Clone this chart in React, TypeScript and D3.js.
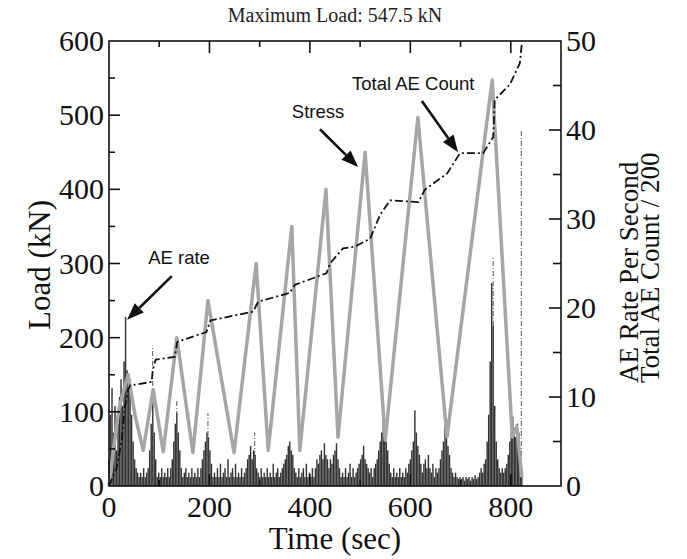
import React from "react";
import * as d3 from "d3";

// ---------- data ----------
const xTicks = [0, 100, 200, 300, 400, 500, 600, 700, 800, 900];
const xLabels = [0, 200, 400, 600, 800];
const loadTicks = [0, 50, 100, 150, 200, 250, 300, 350, 400, 450, 500, 550, 600];
const loadLabels = [0, 100, 200, 300, 400, 500, 600];
const rateTicks = [0, 5, 10, 15, 20, 25, 30, 35, 40, 45, 50];
const rateLabels = [0, 10, 20, 30, 40, 50];

// Stress (load, kN) vs time (sec)
const stressTime = [0, 10, 20, 38, 52, 68, 88, 108, 135, 167, 197, 249, 293, 317, 364, 380, 432, 456, 510, 550, 615, 673, 763, 803, 812, 822];
const stressLoad = [0, 55, 105, 150, 95, 48, 130, 46, 200, 45, 250, 45, 300, 48, 350, 48, 400, 66, 450, 62, 497, 66, 547.5, 66, 80, 12];

// Total AE count / 200 vs time
const countTime = [0, 15, 25, 32, 38, 42, 85, 87, 93, 131, 136, 194, 202, 287, 297, 360, 370, 433, 440, 466, 490, 520, 540, 560, 616, 629, 673, 699, 745, 765, 768, 798, 818, 822];
const countValue = [0, 2, 5, 9, 10.8, 11.3, 11.7, 13.0, 14.2, 14.5, 16.2, 17.3, 18.6, 19.6, 20.7, 21.7, 22.6, 23.9, 25.0, 26.7, 26.9, 27.8, 30.5, 32.1, 31.9, 33.3, 35.1, 37.4, 37.4, 39.2, 43.4, 45.1, 47.5, 49.7];

// AE rate per second, sampled every 3 s from t = 0
const rateStep = 3;
const aeRate = [
  3, 8, 11, 6, 9, 4, 7, 10, 12, 9,
  14, 19, 13, 11, 12, 8, 5, 3, 2, 1.5,
  1, 1.5, 1, 2, 1, 1.5, 2, 4, 7, 9.7,
  6, 3, 1, 1.5, 1, 2, 1, 1.5, 1, 2,
  1, 2, 3, 5, 7, 8.2, 6, 4, 2, 1,
  1.5, 2, 1, 1.5, 1, 2, 1, 1.5, 1, 2,
  1, 2, 3, 4, 5, 6, 5.5, 4, 2.5, 1,
  1.5, 1, 2, 1, 2.5, 1, 1.5, 2, 1, 3,
  1, 1.5, 2, 1, 2.5, 1, 1.5, 1, 2, 1,
  1.5, 2, 3, 3.5, 4.5, 3, 4, 3.5, 2, 1.5,
  1, 2, 1, 1.5, 1, 2, 1, 1.5, 1, 2.5,
  1, 1.5, 2, 1, 1.5, 2, 2.5, 3, 3.5, 4.5,
  5, 4, 3.5, 2, 1.5, 1, 2, 1, 1.5, 2,
  1, 2.5, 1, 1.5, 1, 2, 1, 2, 3, 2.5,
  3.5, 4, 3, 4.8, 3.5, 3, 2, 3, 2.5, 3.5,
  4, 4.8, 3, 2, 1, 1.5, 1, 2, 1, 1.5,
  2.5, 1, 2, 1, 1.5, 2, 2.5, 3, 3.5, 4.5,
  3, 2.5, 2, 1.5, 2, 1, 2, 2.5, 3, 4,
  5, 6, 7.8, 6.5, 5, 4, 2.5, 1.5, 1, 2,
  1, 1.5, 1, 2, 1, 1.5, 1, 2, 1.5, 2.5,
  3, 4, 5, 8.5, 6, 4.5, 3.5, 2.5, 1.5, 2.5,
  3, 2, 3.5, 2, 1.5, 2.5, 1, 2, 1.5, 2,
  3, 4, 5, 6.7, 5.5, 4.5, 3.5, 2, 1.5, 1,
  1.5, 1, 0.8, 1, 0.8, 1, 0.6, 1, 0.8, 1,
  0.6, 1, 0.8, 1.2, 0.8, 1, 1.5, 2, 1.5, 2.5,
  3, 5, 8, 14, 22.8, 18, 9, 5, 3, 2,
  1.5, 2, 1.5, 2, 2.5, 3.5, 5, 6, 7.8, 6.5,
  5.5, 7, 6, 4, 2,
];

// thin dashed AE-rate spikes (lighter traces)
const spikeTime = [87, 135, 197, 290, 765, 821];
const spikeValue = [15.8, 9.7, 8.2, 6, 25.8, 40];

// annotations in data coordinates (time, load)
const annoText = ["AE rate", "Stress", "Total AE Count"];
const annoTextPos = [[78, 300], [364, 496], [484, 534]];
const annoArrowFrom = [[125, 283], [420, 481], [623, 519]];
const annoArrowTo = [[36, 224], [496, 430], [695, 450]];

// ---------- layout ----------
const W = 687;
const H = 559;
const L = 109, R = 561, T = 41, B = 486;
const serif = "'Liberation Serif', 'Times New Roman', serif";
const sans = "'Liberation Sans', Arial, Helvetica, sans-serif";

export default function App() {
  const x = d3.scaleLinear().domain([0, 900]).range([L, R]);
  const yL = d3.scaleLinear().domain([0, 600]).range([B, T]);
  const yR = d3.scaleLinear().domain([0, 50]).range([B, T]);

  const stressPts = stressTime.map((t, i) => [t, stressLoad[i]] as [number, number]);
  const countPts = countTime.map((t, i) => [t, countValue[i]] as [number, number]);

  const stressPath = d3.line<[number, number]>().x(d => x(d[0])).y(d => yL(d[1]))(stressPts) || "";
  const countPath = d3.line<[number, number]>().x(d => x(d[0])).y(d => yR(d[1]))(countPts) || "";

  const barW = (x(rateStep) - x(0)) * 0.95;

  const arrows = annoArrowFrom.map((f, i) => {
    const x1 = x(f[0]), y1 = yL(f[1]);
    const x2 = x(annoArrowTo[i][0]), y2 = yL(annoArrowTo[i][1]);
    const ang = Math.atan2(y2 - y1, x2 - x1);
    const len = 17, hw = 6.5;
    const bx = x2 - len * Math.cos(ang), by = y2 - len * Math.sin(ang);
    const px = -Math.sin(ang) * hw, py = Math.cos(ang) * hw;
    const head = `M${x2},${y2}L${bx + px},${by + py}L${bx - px},${by - py}Z`;
    return { x1, y1, bx, by, head };
  });

  return (
    <svg width={W} height={H} style={{ position: "absolute", left: 0, top: 0, background: "#fff" }}>
      <rect x={0} y={0} width={W} height={H} fill="#fff" />
      {/* title */}
      <text x={335} y={22} textAnchor="middle" fontFamily={serif} fontSize={20} fill="#222">
        Maximum Load: 547.5 kN
      </text>

      {/* AE rate bars */}
      <g fill="#333">
        {aeRate.map((v, i) => (
          <rect key={i} x={x(i * rateStep) - barW / 2} y={yR(v)} width={barW} height={yR(0) - yR(v)} />
        ))}
      </g>
      {/* dashed light spikes */}
      <g stroke="#555" strokeWidth={1} strokeDasharray="5,2,1,2" fill="none">
        {spikeTime.map((t, i) => (
          <line key={i} x1={x(t)} x2={x(t)} y1={yR(0)} y2={yR(spikeValue[i])} />
        ))}
      </g>

      {/* stress */}
      <path d={stressPath} fill="none" stroke="#a6a6a6" strokeWidth={3.5} strokeLinejoin="round" />

      {/* total AE count */}
      <path d={countPath} fill="none" stroke="#111" strokeWidth={1.8} strokeDasharray="8,3,2,3" />

      {/* frame */}
      <rect x={L} y={T} width={R - L} height={B - T} fill="none" stroke="#111" strokeWidth={1.6} />

      {/* ticks (inward) */}
      <g stroke="#111" strokeWidth={1.6}>
        {xTicks.slice(1, -1).map(t => {
          const len = t % 200 === 0 ? 12 : 6;
          return (
            <g key={t}>
              <line x1={x(t)} x2={x(t)} y1={T} y2={T + len} />
              <line x1={x(t)} x2={x(t)} y1={B} y2={B - len} />
            </g>
          );
        })}
        {loadTicks.slice(1, -1).map(v => {
          const len = v % 100 === 0 ? 11 : 6;
          return <line key={v} x1={L} x2={L + len} y1={yL(v)} y2={yL(v)} />;
        })}
        {rateTicks.slice(1, -1).map(v => {
          const len = v % 10 === 0 ? 12 : 8;
          return <line key={v} x1={R} x2={R - len} y1={yR(v)} y2={yR(v)} />;
        })}
      </g>

      {/* tick labels */}
      <g fontFamily={serif} fontSize={30} fill="#111">
        {loadLabels.map(v => (
          <text key={v} x={L - 5} y={yL(v) + 10} textAnchor="end">{v}</text>
        ))}
        {rateLabels.map(v => (
          <text key={v} x={R + 5} y={yR(v) + 10} textAnchor="start">{v}</text>
        ))}
        {xLabels.map(t => (
          <text key={t} x={x(t)} y={B + 31} textAnchor="middle">{t}</text>
        ))}
      </g>

      {/* axis titles */}
      <text x={335} y={549} textAnchor="middle" fontFamily={serif} fontSize={31} fill="#111">Time (sec)</text>
      <text transform={`translate(50,265) rotate(-90)`} textAnchor="middle" fontFamily={serif} fontSize={31} fill="#111">Load (kN)</text>
      <text transform={`translate(638,383) rotate(-90)`} textAnchor="start" fontFamily={serif} fontSize={27} fill="#111">AE Rate Per Second</text>
      <text transform={`translate(659,383) rotate(-90)`} textAnchor="start" fontFamily={serif} fontSize={27} fill="#111">Total AE Count / 200</text>

      {/* annotations */}
      {annoText.map((s, i) => (
        <text key={s} x={x(annoTextPos[i][0])} y={yL(annoTextPos[i][1])} fontFamily={sans} fontSize={18.5} fill="#111">{s}</text>
      ))}
      {arrows.map((a, i) => (
        <g key={i}>
          <line x1={a.x1} y1={a.y1} x2={a.bx} y2={a.by} stroke="#111" strokeWidth={2.6} />
          <path d={a.head} fill="#111" />
        </g>
      ))}
    </svg>
  );
}
